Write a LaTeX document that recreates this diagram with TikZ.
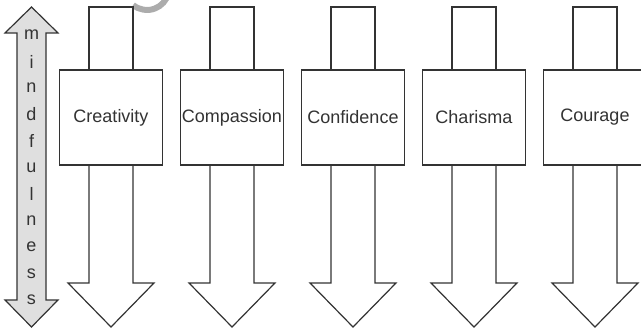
\documentclass[tikz,border=0pt]{standalone}
\usepackage{fontspec}
\setmainfont{Liberation Sans}
\usetikzlibrary{positioning}

\begin{document}
\begin{tikzpicture}[x=1pt,y=-1pt,
		line/.style={draw=black!80,line width=1.2pt},
		quality/.style={line,fill=white,minimum width=103pt,minimum height=95pt,inner sep=0pt,font=\fontsize{18}{20}\selectfont,text=black!80},
		letter/.style={inner sep=0pt,font=\fontsize{18}{20}\selectfont,text=black!80}]
		\useasboundingbox (0,0) rectangle (641,328);
		\clip (0,0) rectangle (641,328);
		\draw[gray!65,line width=6pt] (147,-12) ++(129:22) arc[start angle=129,end angle=15,radius=22];

		\draw[line,fill=gray!25] (17,33) -- (5,33) -- (31.5,7) -- (58,33) -- (46,33) -- (46,300) -- (58,300) -- (31.5,327) -- (5,300) -- (17,300) -- cycle;
		\foreach \ch [count=\i from 0] in {m,i,n,d,f,u,l,n,e,s,s}
			\node[letter] (mind\i) at (31.5,35+26.5*\i) {\ch};

		\foreach \c/\nm/\txt in {111/creativity/Creativity,232/compassion/Compassion,353/confidence/Confidence,474/charisma/Charisma,595/courage/Courage}
		{
			\draw[line,fill=white] (\c-22,7) rectangle (\c+22,70);
			\draw[line,fill=white] (\c-22,165) -- (\c-22,283) -- (\c-43,283) -- (\c,327) -- (\c+43,283) -- (\c+22,283) -- (\c+22,165);
			\node[quality] (\nm) at (\c,117.5) {\txt};
		}
	\end{tikzpicture}
\end{document}
